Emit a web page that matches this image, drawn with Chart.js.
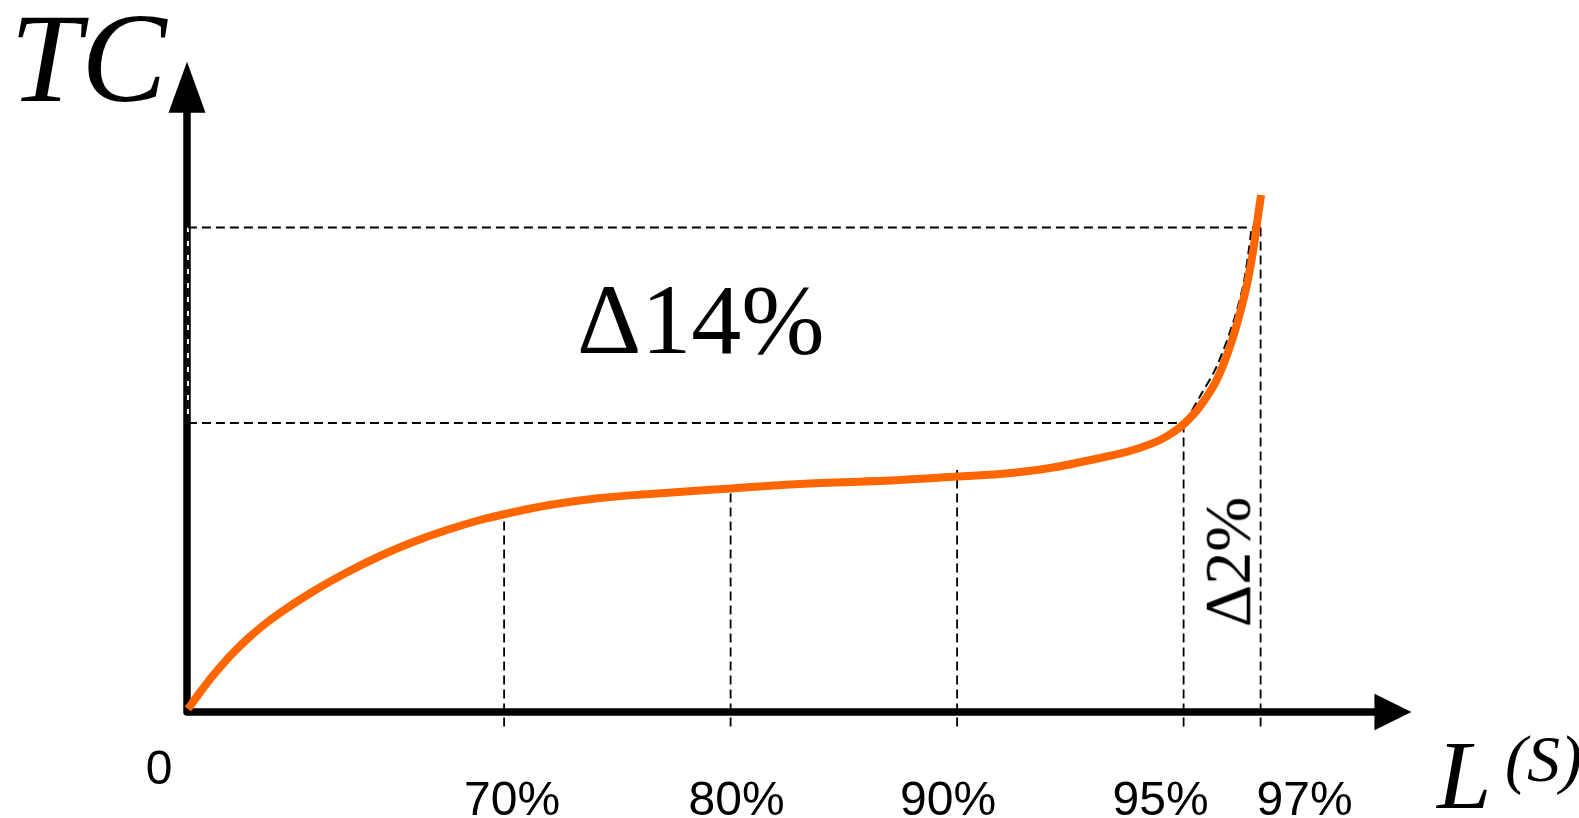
<!DOCTYPE html>
<html>
<head>
<meta charset="utf-8">
<script src="https://cdn.jsdelivr.net/npm/chart.js@4.4.1/dist/chart.umd.min.js"></script>
<style>
    html, body { margin: 0; padding: 0; background: #fff; }
    #wrap { width: 1579px; height: 818px; position: relative; overflow: hidden; }
    .lbl { position: absolute; left: 0; top: 0; white-space: nowrap; color: #000; }
    .sans { font: 48px/1 "Liberation Sans"; }
    .serif { font: 99px/1 "Liberation Serif"; }
    .ital { font: italic 128px/1 "Liberation Serif"; }
</style>
</head>
<body>
<div id="wrap">
    <canvas id="tcChart"></canvas>
    <div class="lbl sans tick">70%</div>
    <div class="lbl sans tick">80%</div>
    <div class="lbl sans tick">90%</div>
    <div class="lbl sans tick">95%</div>
    <div class="lbl sans tick">97%</div>
    <div class="lbl sans" id="zero">0</div>
    <div class="lbl ital" id="yTitle">TC</div>
    <div class="lbl ital" id="xTitle">L</div>
    <div class="lbl ital" id="xSup">(S)</div>
    <div class="lbl serif" id="bigDelta">&#916;14%</div>
    <div class="lbl serif" id="smallDelta">&#916;2%</div>
</div>
<script>
// x is position along the drawn axis (the axis is not linear in %), y is TC
const curveX = [0.004, 0.057, 0.115, 0.19, 0.264, 0.336, 0.41, 0.556, 0.705, 0.852, 0.998, 1.147, 1.294, 1.404, 1.6, 1.823, 2.044, 2.402, 2.706, 3.148, 3.404, 3.589, 3.81, 4.031, 4.177, 4.296, 4.362, 4.406, 4.472, 4.546, 4.605, 4.649, 4.684, 4.71, 4.722, 4.742];
const curveY = [0.6, 3.9, 7.3, 11.2, 14.5, 17.3, 19.8, 24.1, 27.9, 31.2, 34.0, 36.4, 38.4, 39.6, 41.4, 42.8, 43.6, 44.7, 45.6, 46.4, 47.1, 47.6, 48.8, 50.8, 52.4, 54.4, 56.2, 57.8, 61.1, 66.4, 73.1, 79.8, 86.4, 93.1, 97.1, 103.4];

// dashed chord from the 95% point up to the 97% level
const chordX = [4.406, 4.472, 4.546, 4.618, 4.662, 4.684, 4.7];
const chordY = [57.8, 63.1, 69.1, 77.8, 85.1, 91.1, 96.7];

const tickLabels = ['70%', '80%', '90%', '95%', '97%'];
const tickPos = [1.4, 2.4, 3.4, 4.4, 4.74];
const guideTop = [39.6, 44.7, 48.4, 57.8, 96.9];
const guideBottom = -2.9;

const levelLow = 57.8;   // TC at 95%
const levelHigh = 96.9;  // TC at 97%

const axisEndX = 5.406;
const axisEndY = 130.06;

const dash = [9, 5];

function pts(xs, ys) {
    return xs.map((v, i) => ({ x: v, y: ys[i] }));
}

const datasets = [{
    data: pts(curveX, curveY),
    borderColor: '#ff6600',
    borderWidth: 8,
    cubicInterpolationMode: 'monotone',
    borderCapStyle: 'butt',
    pointRadius: 0,
    order: 0,
    clip: false
}, {
    data: pts(chordX, chordY),
    borderColor: '#000',
    borderWidth: 2,
    borderDash: dash,
    tension: 0.3,
    pointRadius: 0,
    order: 1,
    clip: false
}, {
    data: [{ x: 0.004, y: levelLow }, { x: tickPos[3], y: levelLow }],
    borderColor: '#000', borderWidth: 2, borderDash: dash, pointRadius: 0, order: 1, clip: false
}, {
    data: [{ x: 0.004, y: levelHigh }, { x: tickPos[4], y: levelHigh }],
    borderColor: '#000', borderWidth: 2, borderDash: dash, pointRadius: 0, order: 1, clip: false
}, {
    data: [{ x: 0.004, y: levelLow }, { x: 0.004, y: levelHigh }],
    borderColor: '#000', borderWidth: 2, borderDash: dash, pointRadius: 0, order: 1, clip: false
}, {
    // white under the left dashed edge, so the gaps show on the axis
    data: [{ x: 0.004, y: levelLow }, { x: 0.004, y: levelHigh }],
    borderColor: '#fff', borderWidth: 2, pointRadius: 0, order: 2, clip: false
}];

tickPos.forEach((p, i) => {
    datasets.push({
        data: [{ x: p, y: guideBottom }, { x: p, y: guideTop[i] }],
        borderColor: '#000',
        borderWidth: 1.8,
        borderDash: dash,
        pointRadius: 0,
        order: 1,
        clip: false
    });
});

const axesPlugin = {
    id: 'axes',
    beforeDatasetsDraw(chart) {
        const ctx = chart.ctx;
        const xs = chart.scales.x, ys = chart.scales.y;
        const ox = xs.getPixelForValue(0), oy = ys.getPixelForValue(0);
        const xt = xs.getPixelForValue(axisEndX), yt = ys.getPixelForValue(axisEndY);
        ctx.save();
        ctx.strokeStyle = '#000';
        ctx.fillStyle = '#000';
        ctx.lineWidth = 7.5;
        ctx.lineJoin = 'round';
        ctx.beginPath();
        ctx.moveTo(ox, yt + 50);
        ctx.lineTo(ox, oy);
        ctx.lineTo(xt - 36, oy);
        ctx.stroke();
        // arrow heads
        ctx.beginPath();
        ctx.moveTo(ox, yt);
        ctx.lineTo(ox - 18.5, yt + 51);
        ctx.lineTo(ox + 18.5, yt + 51);
        ctx.closePath();
        ctx.fill();
        ctx.beginPath();
        ctx.moveTo(xt, oy);
        ctx.lineTo(xt - 37, oy - 18.3);
        ctx.lineTo(xt - 37, oy + 18.3);
        ctx.closePath();
        ctx.fill();
        ctx.restore();
    }
};

// place a label so that its baseline starts (or is centred) at x, y
function put(el, x, y, size, serif, extra) {
    const asc = serif ? 0.8375 : 0.8465; // baseline offset at line-height 1
    el.style.fontSize = size + 'px';
    el.style.left = x + 'px';
    el.style.top = (y - asc * size) + 'px';
    if (extra) Object.assign(el.style, extra);
}

function placeLabels(chart) {
    const xs = chart.scales.x;
    const nudge = [8, 6, -9, -23, 44];
    document.querySelectorAll('.tick').forEach((el, i) => {
        el.textContent = tickLabels[i];
        put(el, xs.getPixelForValue(tickPos[i]) + nudge[i], 816, 48, false, { transform: 'translateX(-50%)' });
    });
    put(document.getElementById('zero'), xs.getPixelForValue(0) - 28, 785, 48, false, { transform: 'translateX(-50%)' });
    put(document.getElementById('yTitle'), 10, 101, 128, true);
    put(document.getElementById('xTitle'), 1437, 808, 98, true);
    put(document.getElementById('xSup'), 1505, 781, 66, true);
    put(document.getElementById('bigDelta'), 577, 354, 100, true);
    put(document.getElementById('smallDelta'), 1250, 627, 66, true, {
        transformOrigin: '0 ' + (0.8375 * 66) + 'px',
        transform: 'rotate(-90deg)'
    });
}

document.addEventListener('DOMContentLoaded', () => {
    const ctx = document.getElementById('tcChart').getContext('2d');
    const chart = new Chart(ctx, {
        type: 'line',
        data: { datasets: datasets },
        options: {
            responsive: true,
            maintainAspectRatio: false,
            animation: false,
            layout: { padding: { left: 187, right: 168.9, top: 62, bottom: 86 } },
            scales: {
                x: { type: 'linear', min: 0, max: 5.4, display: false },
                y: { type: 'linear', min: -4, max: 130, display: false }
            },
            plugins: {
                legend: { display: false },
                tooltip: { enabled: false }
            }
        },
        plugins: [axesPlugin]
    });
    placeLabels(chart);
});
</script>
</body>
</html>
